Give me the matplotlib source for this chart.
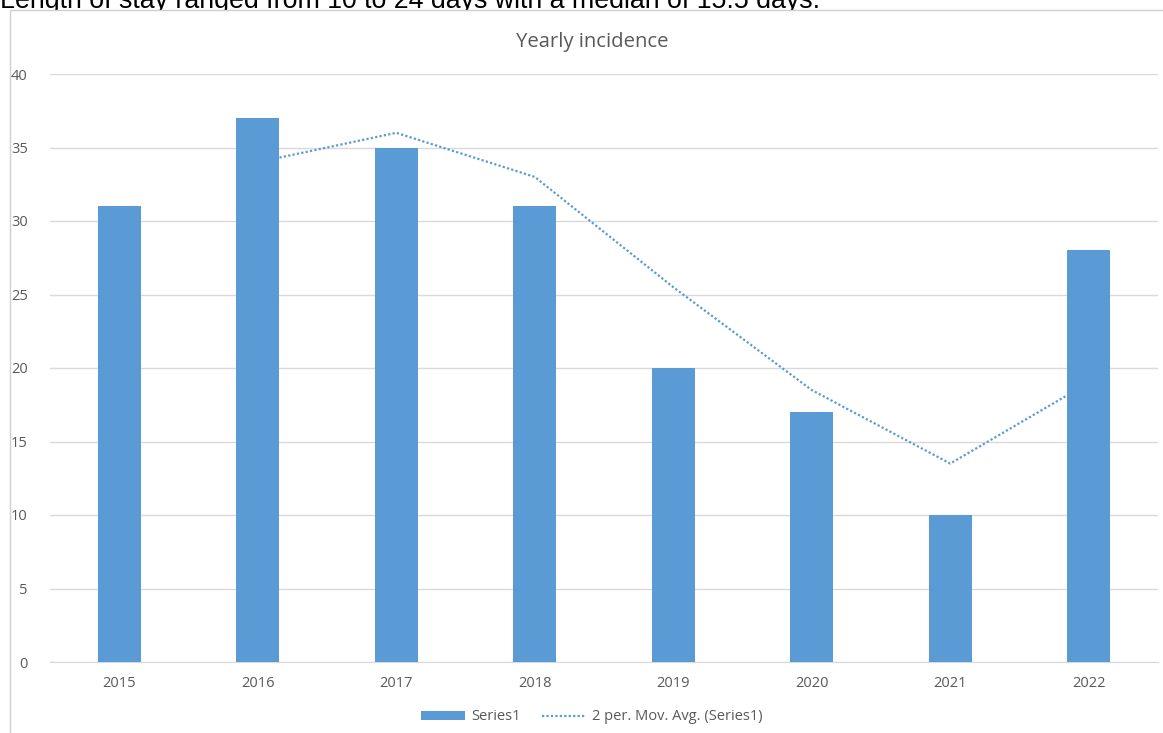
import matplotlib
matplotlib.use('Agg')
import matplotlib.pyplot as plt
from matplotlib.patches import Rectangle, Patch
from matplotlib.lines import Line2D

# Data
years = ['2015', '2016', '2017', '2018', '2019', '2020', '2021', '2022']
counts = [31, 37, 35, 31, 20, 17, 10, 28]
# 2 per. moving average, starting at 2016
ma_years = ['2016', '2017', '2018', '2019', '2020', '2021', '2022']
ma_values = [34, 36, 33, 25.5, 18.5, 13.5, 19]

W, H = 1163, 733
fig = plt.figure(figsize=(W / 100, H / 100), dpi=100)
fig.patch.set_facecolor('white')

# caption cut by the top edge, as in the screenshot (chart box sits over it)
fig.text(0, 1 - 8 / H, 'Length of stay ranged from 10 to 24 days with a median of 15.5 days.',
         fontsize=19.3, family='Liberation Sans', color='black', va='baseline', ha='left',
         zorder=-3)

# chart frame
fig.patches.append(Rectangle((10 / W, -0.05), 1.1, 1 - 10 / H + 0.05, transform=fig.transFigure,
                             facecolor='white', edgecolor='#D0D0D0', linewidth=1, zorder=-2))

ax = fig.add_axes([50 / W, 1 - 662 / H, (1158 - 50) / W, (662 - 74) / H])
ax.patch.set_alpha(0)
x = list(range(len(years)))
xm = [years.index(y) for y in ma_years]

ax.bar(x, counts, width=0.31, color='#5B9BD5', zorder=3)
ax.plot(xm, ma_values, color='#5B9BD5', linestyle=(0, (1, 1)), linewidth=1.6, zorder=2)

ax.set_xlim(-0.5, len(years) - 0.5)
ax.set_ylim(0, 40)
ax.set_yticks(range(0, 41, 5))
ax.set_xticks(x)
ax.set_xticklabels(years)
ax.grid(axis='y', color='#D9D9D9', linewidth=1, zorder=0)
ax.set_axisbelow(True)
for s in ['top', 'right', 'left']:
    ax.spines[s].set_visible(False)
ax.spines['bottom'].set_color('#D9D9D9')
ax.tick_params(length=0, labelsize=10.5, labelcolor='#595959', pad=10)
ax.tick_params(axis='y', pad=16)
for lab in ax.get_xticklabels() + ax.get_yticklabels():
    lab.set_family('Open Sans')

fig.text(592 / W, 1 - 42 / H, 'Yearly incidence', ha='center', va='center',
         fontsize=14.6, color='#595959', family='Open Sans')

handles = [Patch(facecolor='#5B9BD5', edgecolor='none'),
           Line2D([0], [0], color='#5B9BD5', linestyle=(0, (1, 1)), linewidth=1.6)]
fig.legend(handles, ['Series1', '2 per. Mov. Avg. (Series1)'], loc='center',
           bbox_to_anchor=(592 / W, 1 - 717 / H), ncol=2, frameon=False,
           prop={'family': 'Open Sans', 'size': 10.5}, labelcolor='#595959',
           handlelength=3.0, handleheight=0.6, columnspacing=1.5, handletextpad=0.4)

fig.savefig('out.png', dpi=100)
